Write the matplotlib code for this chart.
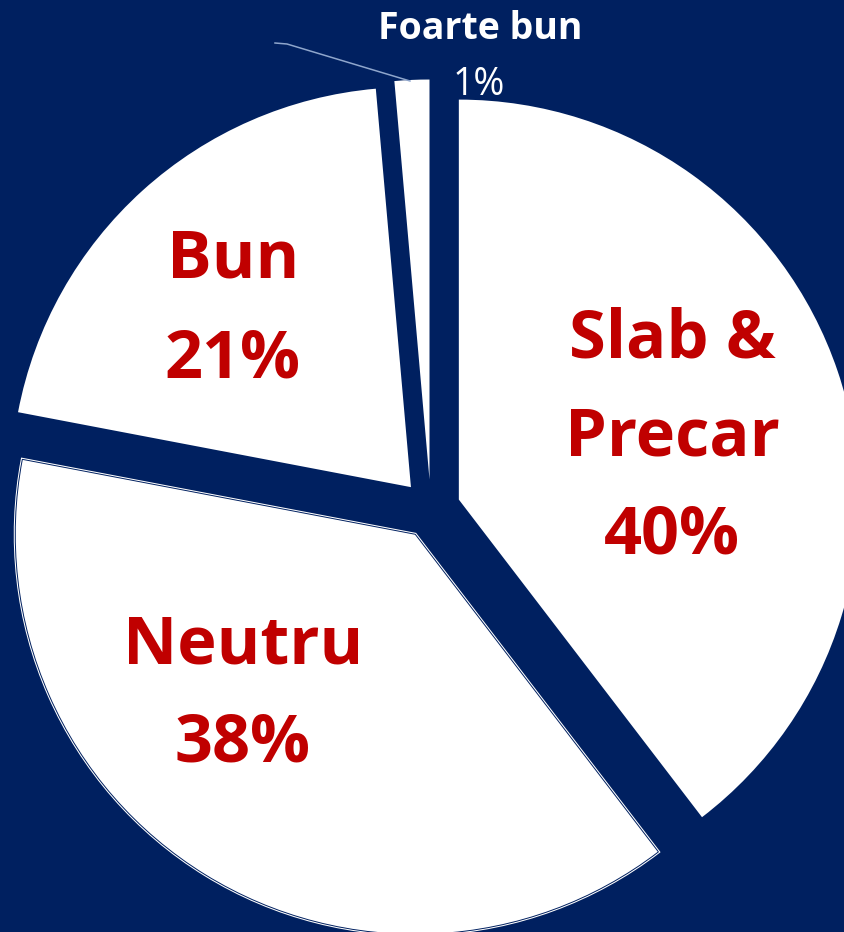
import matplotlib
matplotlib.use("Agg")
import matplotlib.pyplot as plt
from matplotlib.patches import Wedge

# Data
categories = ["Slab & Precar", "Neutru", "Bun", "Foarte bun"]
shares = [39.6, 38.4, 20.6, 1.4]
pct_labels = ["40%", "38%", "21%", "1%"]

NAVY = "#002060"
RED = "#C00000"
W, H = 845, 932

plt.rcParams["font.family"] = ["Open Sans", "DejaVu Sans"]

fig = plt.figure(figsize=(W / 100, H / 100), dpi=100, facecolor=NAVY)
ax = fig.add_axes([0, 0, 1, 1])
ax.set_facecolor(NAVY)

# pixel-like coords, y measured from the bottom
center = (430.8, H - 509.1)
radius = 400
wedges, _ = ax.pie(
    shares,
    startangle=90,
    counterclock=False,
    radius=radius,
    center=center,
    explode=[29.6] * len(shares),
    colors=["white"] * len(shares),
    wedgeprops=dict(linewidth=0),
    frame=True,
)
ax.set_xlim(0, W)
ax.set_ylim(0, H)
ax.set_aspect("equal")
ax.axis("off")

# Neutru has a thin double outline
neu = wedges[1]
neu.set_edgecolor("white")
neu.set_linewidth(2.2)
ax.add_patch(Wedge(neu.center, neu.r, neu.theta1, neu.theta2,
                   facecolor="none", edgecolor=NAVY, linewidth=0.7))


def put_lines(lines, x, y0, step, **kw):
    for i, line in enumerate(lines):
        ax.text(x, H - (y0 + i * step), line, ha="center", va="baseline", **kw)


big = dict(color=RED, fontsize=48, fontweight="bold")
put_lines(["Slab &", "Precar", pct_labels[0]], 672, 357, 98, **big)
put_lines([categories[1], pct_labels[1]], 243, 663, 99, **big)
put_lines([categories[2], pct_labels[2]], 233, 277, 100, **big)

# small slice: outside label with leader line
ax.text(480, H - 39, categories[3], ha="center", va="baseline",
        color="white", fontsize=27, fontweight="bold")
ax.text(479, H - 95, pct_labels[3], ha="center", va="baseline",
        color="white", fontsize=27)
ax.plot([275, 287, 410], [H - 43, H - 44, H - 81], color="#8FA6CC", lw=1.1)

fig.savefig("out.png", dpi=100, facecolor=NAVY)
